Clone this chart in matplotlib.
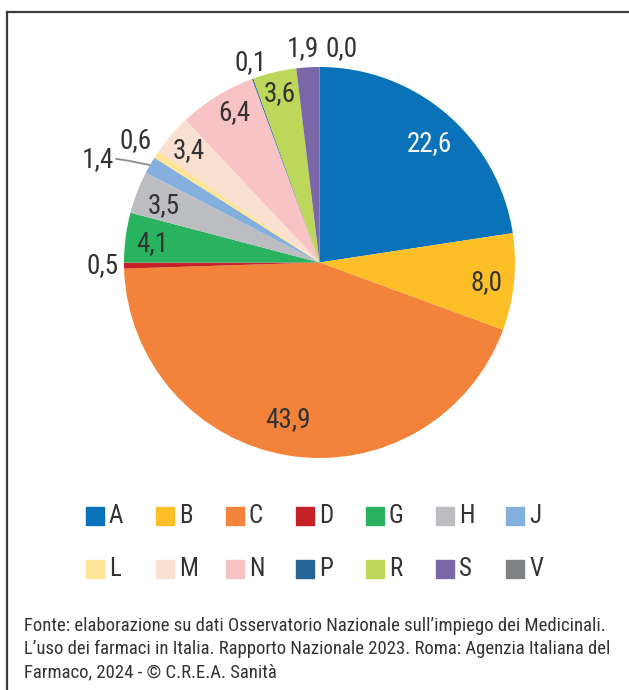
import numpy as np
import matplotlib
matplotlib.use("Agg")
import matplotlib.pyplot as plt
from matplotlib import font_manager
from matplotlib.lines import Line2D
from matplotlib.patches import Rectangle

# narrow sans if we have one
installed = {f.name for f in font_manager.fontManager.ttflist}
for fam in ["Liberation Sans Narrow", "Roboto Condensed", "DejaVu Sans"]:
    if fam in installed:
        plt.rcParams["font.family"] = [fam, "DejaVu Sans"]
        break
plt.rcParams["font.stretch"] = "condensed"

# ATC groups, share of spending (%)
groups = ["A", "B", "C", "D", "G", "H", "J", "L", "M", "N", "P", "R", "S", "V"]
shares = [22.6, 8.0, 43.9, 0.5, 4.1, 3.5, 1.4, 0.6, 3.4, 6.4, 0.1, 3.6, 1.9, 0.0]
colors = ["#0a72b9", "#fdbf27", "#f3823a", "#c42127", "#2ab35f", "#bcbdc0",
          "#85b0de", "#fee597", "#fae0d1", "#f8c3c4", "#256597", "#bdd75a",
          "#7a67a7", "#808184"]

# label radius (in units of the pie radius) and angular nudge in degrees
label_dist = [0.83, 0.86, 0.82, 1.11, 0.86, 0.85, 1.25, 1.13, 0.88, 0.88,
              1.08, 0.89, 1.10, 1.10]
label_nudge = [-2, -1, -2, 0, 1, 1, 5, 0, 0, -2, -1, 0, 1, -6]
label_color = ["white"] + ["#333333"] * 13

W, H = 629, 690
fig = plt.figure(figsize=(W / 100, H / 100), dpi=100)

cx, cy, r = 319.5, 262.5, 195.5
lim = 1.3
side = 2 * lim * r
ax = fig.add_axes([(cx - side / 2) / W, (H - cy - side / 2) / H, side / W, side / H])

wedges, _ = ax.pie(shares, colors=colors, startangle=90, counterclock=False,
                   radius=1, wedgeprops=dict(linewidth=0))
ax.set_xlim(-lim, lim)
ax.set_ylim(-lim, lim)
ax.set_aspect("equal")
ax.axis("off")

for i, w in enumerate(wedges):
    mid = np.deg2rad((w.theta1 + w.theta2) / 2 + label_nudge[i])
    x = label_dist[i] * np.cos(mid)
    y = label_dist[i] * np.sin(mid)
    txt = f"{shares[i]:.1f}".replace(".", ",")
    ax.text(x, y, txt, ha="center", va="center", fontsize=19.5,
            color=label_color[i])

# leader line for J
jw = wedges[groups.index("J")]
jm = np.deg2rad((jw.theta1 + jw.theta2) / 2)
jl = np.deg2rad((jw.theta1 + jw.theta2) / 2 + label_nudge[6])
lx, ly = label_dist[6] * np.cos(jl), label_dist[6] * np.sin(jl)
ax.plot([lx + 0.09, -0.98, np.cos(jm)], [ly + 0.005, ly - 0.005, np.sin(jm)],
        color="#8c8c8c", lw=1.3, solid_capstyle="butt")

# legend, two rows of seven
for i, g in enumerate(groups):
    row, col = divmod(i, 7)
    x0 = 86 + 70 * col
    yc = 516 + 53 * row
    fig.patches.append(Rectangle((x0 / W, 1 - (yc + 9) / H), 18 / W, 18 / H,
                                 transform=fig.transFigure, color=colors[i]))
    fig.text((x0 + 23) / W, 1 - yc / H, g, ha="left", va="center",
             fontsize=18, color="#333333")

# source note
source = [
    "Fonte: elaborazione su dati Osservatorio Nazionale sull\u2019impiego dei Medicinali.",
    "L\u2019uso dei farmaci in Italia. Rapporto Nazionale 2023. Roma: Agenzia Italiana del",
    "Farmaco, 2024 - \u00a9 C.R.E.A. Sanit\u00e0",
]
for k, line in enumerate(source):
    fig.text(24 / W, 1 - (631 + 23 * k) / H, line, ha="left", va="baseline",
             fontsize=13.5, color="#333333")

# frame: top and left edges
fig.add_artist(Line2D([7.3 / W, 1], [1 - 12.3 / H, 1 - 12.3 / H],
                      transform=fig.transFigure, color="#3c3c3c", lw=1.6))
fig.add_artist(Line2D([7.3 / W, 7.3 / W], [0, 1 - 12.3 / H],
                      transform=fig.transFigure, color="#3c3c3c", lw=1.6))

fig.savefig("out.png", dpi=100)
